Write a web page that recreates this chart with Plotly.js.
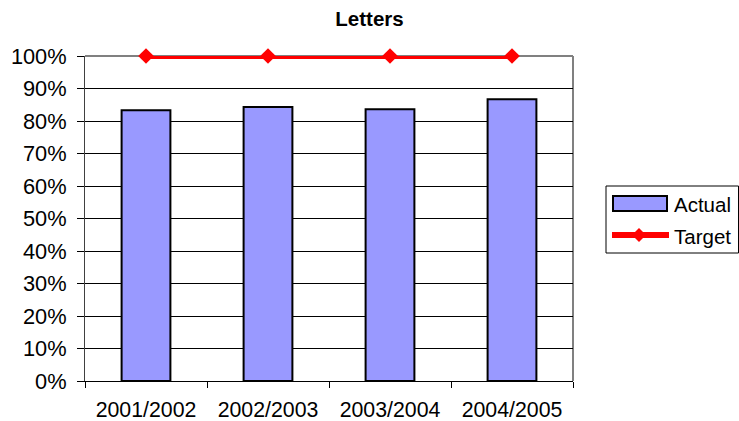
<!DOCTYPE html>
<html><head><meta charset="utf-8">
<script src="https://cdn.plot.ly/plotly-3.0.1.min.js"></script>
<style>html,body{margin:0;padding:0;background:#fff}#chart{width:739px;height:421px}</style>
</head><body><div id="chart"></div>
<script>
var categories = ["2001/2002", "2002/2003", "2003/2004", "2004/2005"];
var actualValues = [0.833, 0.843, 0.836, 0.867];
var targetValues = [1.0, 1.0, 1.0, 1.0];
var yTickVals = [0, 0.1, 0.2, 0.3, 0.4, 0.5, 0.6, 0.7, 0.8, 0.9, 1.0];
var seriesNames = ["Actual", "Target"];

var W = 739, H = 421;
var M = {l: 85, r: 166, t: 56, b: 40};
var PW = W - M.l - M.r, PH = H - M.t - M.b;
function px(x) { return (x - M.l) / PW; }
function py(y) { return (H - M.b - y) / PH; }

var FONT = "Liberation Sans, Arial, sans-serif";

var traces = [
  {type: "bar", name: seriesNames[0], x: categories, y: actualValues,
   marker: {color: "#9999ff", line: {color: "#000000", width: 2}}},
  {type: "scatter", mode: "lines+markers", name: seriesNames[1], x: categories, y: targetValues,
   line: {color: "#ff0000", width: 6}, marker: {symbol: "diamond", size: 12, color: "#ff0000"},
   cliponaxis: false}
];

// custom legend (Excel style)
var dx = 7, dy = 7;
var shapes = [
  {type: "line", xref: "paper", yref: "paper", x0: 0, x1: 1, y0: 1, y1: 1, line: {color: "#808080", width: 2}, layer: "below"},
  {type: "line", xref: "paper", yref: "paper", x0: 1, x1: 1, y0: 0, y1: 1, line: {color: "#808080", width: 2}, layer: "below"},
  {type: "rect", xref: "paper", yref: "paper", x0: px(606), x1: px(738.5), y0: py(186), y1: py(253),
   line: {color: "#000", width: 1}, fillcolor: "rgba(0,0,0,0)"},
  {type: "rect", xref: "paper", yref: "paper", x0: px(613), x1: px(667), y0: py(196), y1: py(211),
   line: {color: "#000", width: 2}, fillcolor: "#9999ff"},
  {type: "line", xref: "paper", yref: "paper", x0: px(612), x1: px(669), y0: py(235), y1: py(235),
   line: {color: "#ff0000", width: 6}},
  {type: "path", xref: "paper", yref: "paper",
   path: "M" + px(639 - dx) + "," + py(235) + " L" + px(639) + "," + py(235 - dy) + " L" + px(639 + dx) + "," + py(235) + " L" + px(639) + "," + py(235 + dy) + " Z",
   line: {color: "#ff0000", width: 0}, fillcolor: "#ff0000"}
];
var annotations = [
  {xref: "paper", yref: "paper", x: px(672), y: py(204), xanchor: "left", yanchor: "middle", showarrow: false,
   text: seriesNames[0], font: {family: FONT, size: 20.5, color: "#000"}},
  {xref: "paper", yref: "paper", x: px(672), y: py(236), xanchor: "left", yanchor: "middle", showarrow: false,
   text: seriesNames[1], font: {family: FONT, size: 20.5, color: "#000"}}
];

var layout = {
  width: W, height: H,
  margin: M,
  paper_bgcolor: "#ffffff", plot_bgcolor: "#ffffff",
  font: {family: FONT, size: 21.3, color: "#000"},
  title: {text: "<b>Letters</b>", font: {size: 20.5}, x: 0.5, xanchor: "center", y: 1 - 19 / H, yanchor: "middle"},
  bargap: 0.6,
  showlegend: false,
  xaxis: {type: "category", tickson: "boundaries", ticks: "outside", ticklen: 6, tickcolor: "#000",
          showline: true, linecolor: "#000", linewidth: 1, showgrid: false, zeroline: false,
          fixedrange: true, tickfont: {size: 21.3}, ticklabelstandoff: 9},
  yaxis: {range: [0, 1], tickvals: yTickVals, tickformat: ".0%", ticks: "outside", ticklen: 7,
          tickcolor: "#000", showline: true, linecolor: "#404040", linewidth: 1, ticklabelstandoff: 6,
          showgrid: true, gridcolor: "#000", gridwidth: 1, zeroline: false, fixedrange: true,
          tickfont: {size: 21.8}},
  shapes: shapes,
  annotations: annotations
};
Plotly.newPlot("chart", traces, layout, {displayModeBar: false, staticPlot: true});
</script></body></html>
